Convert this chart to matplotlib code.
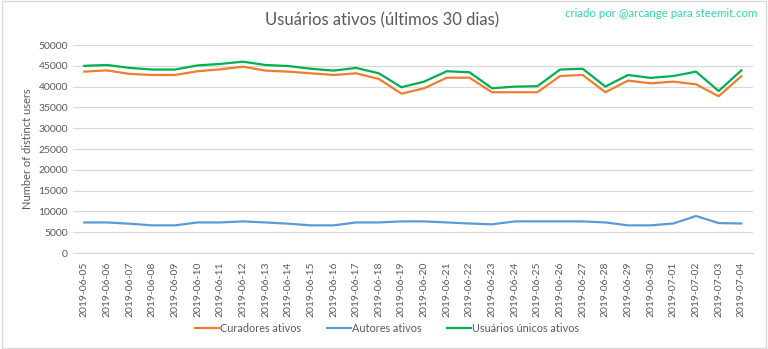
import matplotlib
matplotlib.use('Agg')
import matplotlib.pyplot as plt
import pandas as pd

plt.rcParams['font.family'] = ['Lato', 'DejaVu Sans']

dates = pd.date_range('2019-06-05', '2019-07-04').strftime('%Y-%m-%d').tolist()

curadores = [43600, 43900, 43050, 42800, 42800, 43700, 44150, 44800, 43850, 43600,
             43200, 42800, 43200, 41850, 38300, 39600, 42150, 42150, 38650, 38650,
             38650, 42550, 42800, 38650, 41450, 40800, 41200, 40550, 37700, 42500]
autores = [7350, 7350, 7050, 6650, 6650, 7350, 7350, 7600, 7350, 7050,
           6650, 6650, 7350, 7350, 7600, 7600, 7350, 7100, 6900, 7600,
           7600, 7600, 7600, 7350, 6650, 6650, 7100, 8900, 7200, 7100]
unicos = [45000, 45200, 44500, 44100, 44100, 45100, 45450, 46000, 45200, 44950,
          44300, 43850, 44500, 43200, 39850, 41200, 43700, 43450, 39600, 40000,
          40100, 44100, 44300, 40000, 42800, 42100, 42550, 43600, 38950, 43900]

text_gray = '#595959'

fig = plt.figure(figsize=(7.68, 3.49), dpi=100)
ax = fig.add_axes([0.095, 0.275, 0.885, 0.596])

x = range(len(dates))
ax.plot(x, curadores, color='#ED7D31', linewidth=1.6, label='Curadores ativos')
ax.plot(x, autores, color='#5B9BD5', linewidth=1.6, label='Autores ativos')
ax.plot(x, unicos, color='#00B050', linewidth=1.6, label='Usuários únicos ativos')

ax.set_xlim(-0.5, len(dates) - 0.5)
ax.set_ylim(0, 50000)
ax.set_yticks(range(0, 50001, 5000))
ax.set_xticks(list(x))
ax.set_xticklabels(dates, rotation=90)
ax.tick_params(axis='both', length=0, colors=text_gray, labelsize=7.5)
ax.tick_params(axis='x', pad=6)
ax.grid(axis='y', color='#D9D9D9', linewidth=0.9)
ax.set_axisbelow(True)
for s in ['top', 'right', 'left']:
    ax.spines[s].set_visible(False)
ax.spines['bottom'].set_color('#D9D9D9')

ax.set_ylabel('Number of distinct users', color=text_gray, fontsize=8)

fig.text(0.498, 0.942, 'Usuários ativos (últimos 30 dias)', ha='center', va='center',
         fontsize=12, color=text_gray)
fig.text(0.986, 0.962, 'criado por @arcange para steemit.com', ha='right', va='center',
         fontsize=8.3, color='#2BD9A7')

fig.legend(loc='center', bbox_to_anchor=(0.504, 0.06), ncol=3, frameon=False,
           fontsize=7.8, handlelength=2.2, handletextpad=0.1, columnspacing=2.4,
           labelcolor=text_gray)

# thin border round the whole chart
fig.patches.append(plt.Rectangle((0.002, 0.003), 0.996, 0.994, transform=fig.transFigure,
                                 fill=False, edgecolor='#D9D9D9', linewidth=1))

fig.savefig('out.png', dpi=100, facecolor='white')
